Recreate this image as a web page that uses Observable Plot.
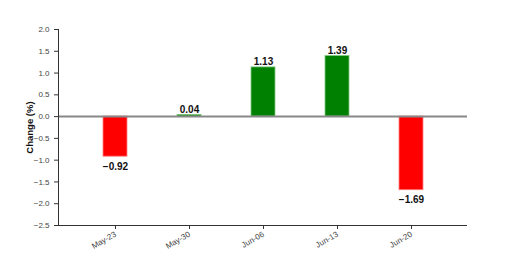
<!DOCTYPE html>
<html>
<head>
<meta charset="utf-8">
<script src="https://cdn.jsdelivr.net/npm/d3@7"></script>
<script src="https://cdn.jsdelivr.net/npm/@observablehq/plot@0.6"></script>
<style>
body { margin: 0; background: #fff; }
</style>
</head>
<body>
<div id="chart"></div>
<script>
const weeks = ["May-23", "May-30", "Jun-06", "Jun-13", "Jun-20"];
const changes = [-0.92, 0.04, 1.13, 1.39, -1.69];
const yTicks = [-2.5, -2.0, -1.5, -1.0, -0.5, 0.0, 0.5, 1.0, 1.5, 2.0];
const yTitle = "Change (%)";

const data = weeks.map((w, i) => ({ week: w, change: changes[i] }));
const pos = data.filter(d => d.change >= 0);
const neg = data.filter(d => d.change < 0);
const fmt = d3.format(".2f");

const chart = Plot.plot({
  width: 508,
  height: 265,
  marginLeft: 58,
  marginRight: 41,
  marginTop: 29,
  marginBottom: 40,
  style: { fontFamily: "Liberation Sans, Arial, sans-serif", background: "#fff" },
  x: { domain: weeks, paddingInner: 0.68, paddingOuter: 0.59, label: null },
  y: { domain: [-2.5, 2], label: null },
  marks: [
    Plot.barY(data, {
      x: "week", y: "change",
      fill: d => d.change >= 0 ? "green" : "red",
      stroke: d => d.change >= 0 ? "#7fc97f" : "#ff8080",
      strokeWidth: 0.8
    }),
    Plot.ruleY([0], { stroke: "#888", strokeWidth: 2 }),
    Plot.ruleY([-2.5], { stroke: "#333", strokeWidth: 1 }),
    Plot.frame({ anchor: "left", stroke: "#333" }),
    Plot.axisY({
      ticks: yTicks, tickFormat: d3.format(".1f"), tickSize: 4,
      fontSize: 8, fill: "#444", stroke: "#333", label: null
    }),
    Plot.axisX({
      tickRotate: -30, tickSize: 4, fontSize: 8, fill: "#444", stroke: "#333",
      label: null, tickPadding: 4
    }),
    Plot.text([yTitle], {
      frameAnchor: "left", textAnchor: "middle", dx: -29, rotate: -90, text: d => d,
      fontWeight: "bold", fontSize: 9.5, fill: "#111"
    }),
    Plot.text(pos, {
      x: "week", y: "change", text: d => fmt(d.change),
      dy: -2, lineAnchor: "bottom", fontWeight: "bold", fontSize: 10, fill: "#111"
    }),
    Plot.text(neg, {
      x: "week", y: "change", text: d => fmt(d.change).replace("-", "\u2212"),
      dy: 6, lineAnchor: "top", fontWeight: "bold", fontSize: 10, fill: "#111"
    })
  ]
});

document.getElementById("chart").appendChild(chart);
</script>
</body>
</html>
